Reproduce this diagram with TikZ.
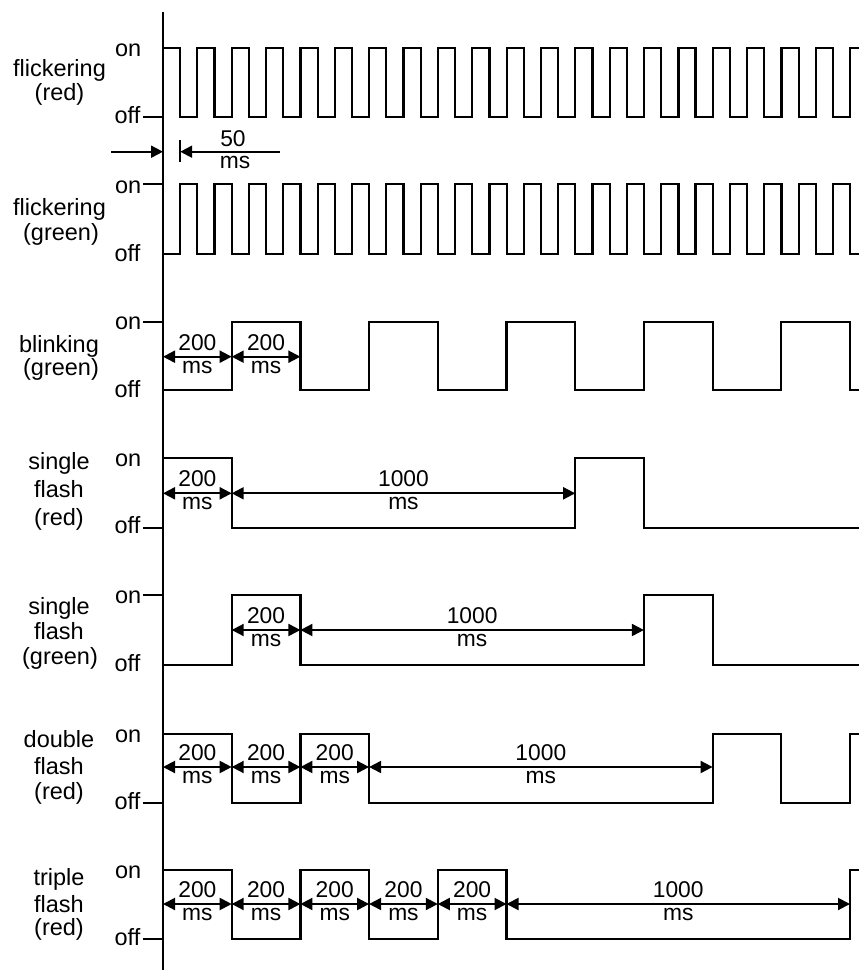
\documentclass[tikz,border=0pt]{standalone}
\usepackage{fontspec}
\setmainfont{Liberation Sans}
\usetikzlibrary{arrows.meta}
\newcommand\spanarrow[5]{%
  \draw[dimline] (#1,#3) -- (#2,#3);
  \node[num] (#5a) at ({(#1+#2)/2},{#3-6.5}) {#4};
  \node[num] (#5b) at ({(#1+#2)/2},{#3+16.5}) {ms};}
\begin{document}
\begin{tikzpicture}[x=1pt,y=-1pt,
  wave/.style={line width=2.2pt, line join=miter},
  ticky/.style={line width=2.2pt},
  tipA/.tip={Triangle[length=12pt,width=12pt]},
  dimline/.style={line width=2pt, tipA-tipA},
  txt/.style={font=\fontsize{23.5}{27}\selectfont, inner sep=0pt},
  lbl/.style={txt, anchor=base},
  lvl/.style={txt, anchor=base east},
  num/.style={font=\fontsize{22.8}{27}\selectfont, inner sep=0pt, anchor=base}]
\useasboundingbox (0,0) rectangle (859,970);
\coordinate (axtop) at (163,12);
\coordinate (axbot) at (163,970);
\draw[ticky] (axtop) -- (axbot);

% Row 1: flickering (red)
\draw[wave] (163,47.7) \foreach \k in {1,3,...,39} { -| ({163+17.18*\k},117) -| ({163+17.18*(\k+1)},47.7) } -- (859,47.7);
\node[lvl] (on1) at (141.5,56) {on};
\node[lvl] (off1) at (140.5,123.5) {off};
\draw[ticky] (143,117) -- (163,117);
\node[lbl] (l1a) at (59.5,76.7) {flickering};
\node[lbl] (l1b) at (59.5,100) {(red)};
\coordinate (d1l) at (111,151.7);
\coordinate (d1a) at (163,151.7);
\coordinate (d1r) at (280,151.7);
\coordinate (d1b) at (180.2,151.7);
\draw[line width=2pt, -tipA] (d1l) -- (d1a);
\draw[line width=2pt, -tipA] (d1r) -- (d1b);
\draw[ticky] (180.2,140) -- (180.2,162);
\node[num] (n50) at (233,146.7) {50};
\node[num] (n50ms) at (235,168) {ms};

% Row 2: flickering (green)
\draw[wave] (163,254.3) \foreach \k in {1,3,...,39} { -| ({163+17.18*\k},184.3) -| ({163+17.18*(\k+1)},254.3) } -- (859,254.3);
\node[lvl] (on2) at (141.5,193) {on};
\node[lvl] (off2) at (140.5,261) {off};
\draw[ticky] (143,184.3) -- (163,184.3);
\node[lbl] (l2a) at (59.5,215) {flickering};
\node[lbl] (l2b) at (61,240) {(green)};

% Row 3: blinking (green)
\draw[wave] (163,390) -| (231.7,321.7) -| (300.4,390) -| (369.1,321.7) -| (437.8,390) -| (506.5,321.7) -| (575.2,390) -| (643.9,321.7) -| (712.6,390) -| (781.3,321.7) -| (850,390) -- (859,390);
\node[lvl] (on3) at (141.5,329) {on};
\node[lvl] (off3) at (140.5,397) {off};
\draw[ticky] (143,321.7) -- (163,321.7);
\node[lbl] (l3a) at (59,352.7) {blinking};
\node[lbl] (l3b) at (61,375) {(green)};
\spanarrow{163}{231.7}{356.7}{200}{r3s1}
\spanarrow{231.7}{300.4}{356.7}{200}{r3s2}

% Row 4: single flash (red)
\draw[wave] (163,458) -| (231.7,527.7) -| (575.2,458) -| (643.9,527.7) -- (859,527.7);
\node[lvl] (on4) at (141.5,466) {on};
\node[lvl] (off4) at (140.5,533.5) {off};
\draw[ticky] (143,527.7) -- (163,527.7);
\node[lbl] (l4a) at (59,469) {single};
\node[lbl] (l4b) at (59,497) {flash};
\node[lbl] (l4c) at (59,525) {(red)};
\spanarrow{163}{231.7}{493.3}{200}{r4s1}
\spanarrow{231.7}{575.2}{493.3}{1000}{r4s2}

% Row 5: single flash (green)
\draw[wave] (163,665) -| (231.7,595) -| (300.4,665) -| (643.9,595) -| (712.6,665) -- (859,665);
\node[lvl] (on5) at (141.5,603) {on};
\node[lvl] (off5) at (140.5,671.5) {off};
\draw[ticky] (143,595) -- (163,595);
\node[lbl] (l5a) at (59,614) {single};
\node[lbl] (l5b) at (59,639) {flash};
\node[lbl] (l5c) at (60,664) {(green)};
\spanarrow{231.7}{300.4}{630}{200}{r5s1}
\spanarrow{300.4}{643.9}{630}{1000}{r5s2}

% Row 6: double flash (red)
\draw[wave] (163,734) -| (231.7,802.7) -| (300.4,734) -| (369.1,802.7) -| (712.6,734) -| (781.3,802.7) -| (850,734) -- (859,734);
\node[lvl] (on6) at (141.5,742) {on};
\node[lvl] (off6) at (140.5,809) {off};
\draw[ticky] (143,802.7) -- (163,802.7);
\node[lbl] (l6a) at (59,747) {double};
\node[lbl] (l6b) at (59,774) {flash};
\node[lbl] (l6c) at (59,799) {(red)};
\spanarrow{163}{231.7}{767}{200}{r6s1}
\spanarrow{231.7}{300.4}{767}{200}{r6s2}
\spanarrow{300.4}{369.1}{767}{200}{r6s3}
\spanarrow{369.1}{712.6}{767}{1000}{r6s4}

% Row 7: triple flash (red)
\draw[wave] (163,870) -| (231.7,939) -| (300.4,870) -| (369.1,939) -| (437.8,870) -| (506.5,939) -| (850,870) -- (859,870);
\node[lvl] (on7) at (141.5,878) {on};
\node[lvl] (off7) at (140.5,945.5) {off};
\draw[ticky] (143,939) -- (163,939);
\node[lbl] (l7a) at (59,885) {triple};
\node[lbl] (l7b) at (59,912) {flash};
\node[lbl] (l7c) at (59,935) {(red)};
\spanarrow{163}{231.7}{904}{200}{r7s1}
\spanarrow{231.7}{300.4}{904}{200}{r7s2}
\spanarrow{300.4}{369.1}{904}{200}{r7s3}
\spanarrow{369.1}{437.8}{904}{200}{r7s4}
\spanarrow{437.8}{506.5}{904}{200}{r7s5}
\spanarrow{506.5}{850}{904}{1000}{r7s6}
\end{tikzpicture}
\end{document}
